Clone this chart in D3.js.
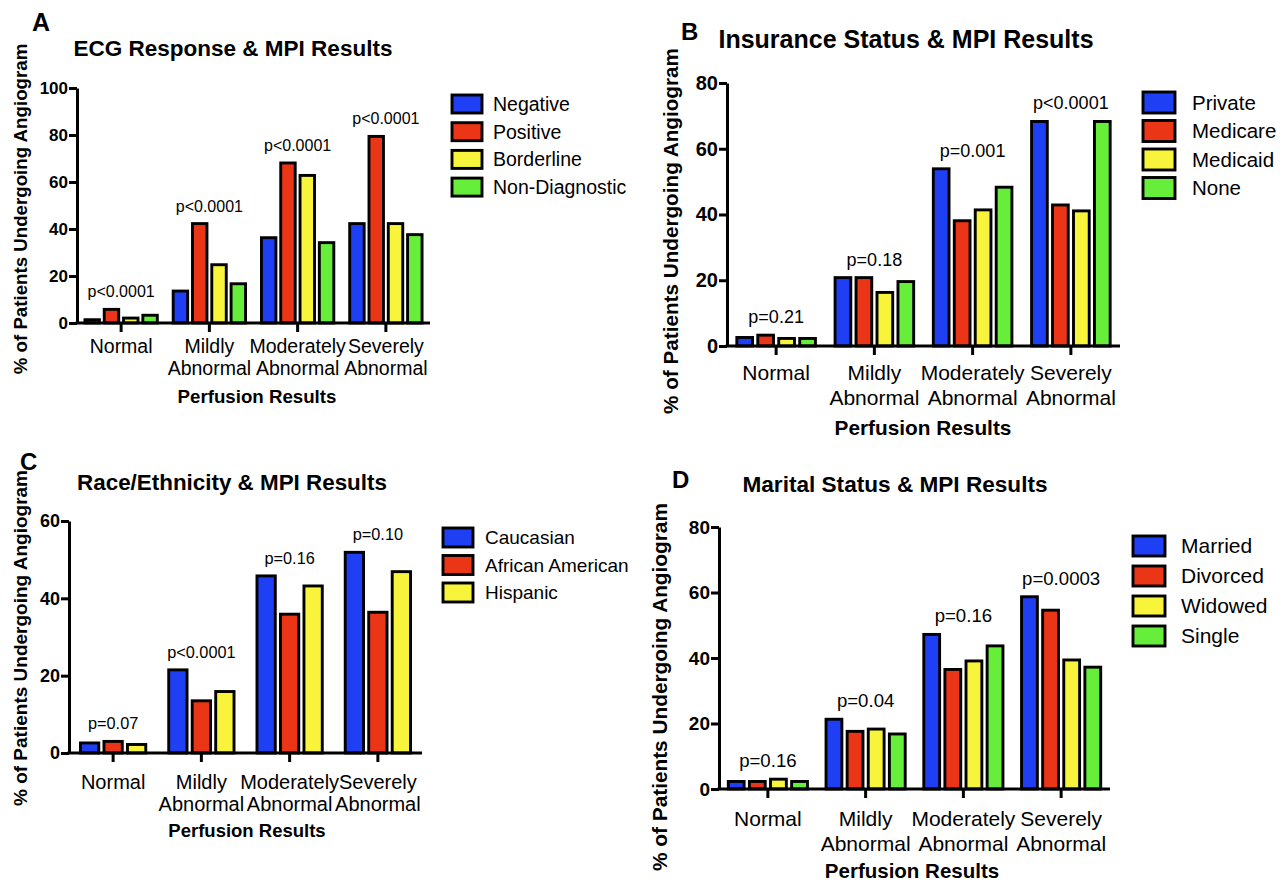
<!DOCTYPE html>
<html lang="en">
<head>
<meta charset="UTF-8">
<title>MPI Results</title>
<script src="https://d3js.org/d3.v7.min.js"></script>
<style>
  body { margin: 0; background: #fff; }
  svg { font-family: "Liberation Sans", Arial, sans-serif; }
  .bar { stroke: #000; stroke-width: 2.9; }
  .axis path, .axis line { stroke: #000; stroke-width: 3; }
</style>
</head>
<body>
<script>
// categories shared by all four panels
const categories = ["Normal", "Mildly Abnormal", "Moderately Abnormal", "Severely Abnormal"]
const categoryLines = [["Normal"], ["Mildly", "Abnormal"], ["Moderately", "Abnormal"], ["Severely", "Abnormal"]]
const colors = ["#1f3ff5", "#ea3517", "#f8f43c", "#66ee3a"]

// A - ECG response
const ecgSeries = ["Negative", "Positive", "Borderline", "Non-Diagnostic"]
const ecgValues = [[1.4, 5.8, 2.1, 3.3], [13.6, 42.3, 24.8, 16.7], [36.3, 68.1, 62.8, 34.2], [42.3, 79.4, 42.3, 37.6]]
const ecgP = ["p<0.0001", "p<0.0001", "p<0.0001", "p<0.0001"]
const ecgTicks = [0, 20, 40, 60, 80, 100]

// B - insurance status
const insSeries = ["Private", "Medicare", "Medicaid", "None"]
const insValues = [[2.6, 3.3, 2.3, 2.3], [20.8, 20.8, 16.3, 19.6], [53.9, 38.1, 41.4, 48.3], [68.3, 42.9, 41.1, 68.3]]
const insP = ["p=0.21", "p=0.18", "p=0.001", "p<0.0001"]
const insTicks = [0, 20, 40, 60, 80]

// C - race / ethnicity
const raceSeries = ["Caucasian", "African American", "Hispanic"]
const raceValues = [[2.6, 3.0, 2.2], [21.5, 13.5, 15.9], [45.8, 35.9, 43.2], [51.9, 36.4, 46.9]]
const raceP = ["p=0.07", "p<0.0001", "p=0.16", "p=0.10"]
const raceTicks = [0, 20, 40, 60]

// D - marital status
const marSeries = ["Married", "Divorced", "Widowed", "Single"]
const marValues = [[2.3, 2.3, 3.0, 2.3], [21.3, 17.6, 18.3, 16.8], [47.2, 36.5, 39.1, 43.7], [58.7, 54.6, 39.4, 37.2]]
const marP = ["p=0.16", "p=0.04", "p=0.16", "p=0.0003"]
const marTicks = [0, 20, 40, 60, 80]

const svg = d3.select("body").append("svg")
  .attr("width", 1280)
  .attr("height", 884)

function drawPanel(p) {
  const g = svg.append("g")

  // letter + title
  g.append("text").attr("x", p.letterX).attr("y", p.letterY)
    .attr("font-size", p.letterSize).attr("font-weight", "bold").text(p.letter)
  g.append("text").attr("x", p.titleX).attr("y", p.titleY)
    .attr("text-anchor", "middle").attr("font-size", p.titleSize).attr("font-weight", "bold").text(p.title)

  const y = d3.scaleLinear().domain([0, d3.max(p.ticks)]).range([p.bottom, p.top])
  const x0 = d3.scaleBand().domain(categories).range([p.left, p.right])
    .paddingInner(p.groupPad).paddingOuter(p.groupPad / 2)
  const x1 = d3.scaleBand().domain(p.series).range([0, x0.bandwidth()]).paddingInner(p.barPad)
  const color = d3.scaleOrdinal().domain(p.series).range(colors)

  // bars
  const groups = g.selectAll(".grp").data(p.values).join("g")
    .attr("transform", (d, i) => `translate(${x0(categories[i])},0)`)
  groups.selectAll("rect").data(d => d.map((v, j) => ({ name: p.series[j], v })))
    .join("rect").attr("class", "bar")
    .attr("x", d => x1(d.name)).attr("width", x1.bandwidth())
    .attr("y", d => y(d.v)).attr("height", d => y(0) - y(d.v))
    .attr("fill", d => color(d.name))

  // p values over each group
  g.selectAll(".pval").data(p.pvals).join("text")
    .attr("x", (d, i) => x0(categories[i]) + x0.bandwidth() / 2)
    .attr("y", (d, i) => y(d3.max(p.values[i])) - 12)
    .attr("text-anchor", "middle").attr("font-size", p.pSize).text(d => d)

  // axes
  const yAxis = g.append("g").attr("class", "axis")
    .attr("transform", `translate(${p.left},0)`)
    .call(d3.axisLeft(y).tickValues(p.ticks).tickFormat(d3.format("d")).tickSize(8).tickSizeOuter(0))
  yAxis.selectAll("text").attr("font-size", p.tickSize).attr("font-weight", "bold")
    .attr("fill", "#000").attr("font-family", null).attr("x", -9)

  const xAxis = g.append("g").attr("class", "axis")
    .attr("transform", `translate(0,${p.bottom})`)
    .call(d3.axisBottom(x0).tickFormat("").tickSize(9).tickSizeOuter(0))
  xAxis.select(".domain").attr("d", `M${p.left - 1.5},0H${p.right}`)

  // category labels
  g.selectAll(".cat").data(categoryLines).join("text")
    .attr("text-anchor", "middle").attr("font-size", p.catSize)
    .attr("transform", (d, i) => `translate(${x0(categories[i]) + x0.bandwidth() / 2},${p.catY})`)
    .selectAll("tspan").data(d => d).join("tspan")
    .attr("x", 0).attr("y", (d, k) => k * p.lineH).text(d => d)

  // axis titles
  g.append("text").attr("x", p.xTitleX).attr("y", p.xTitleY)
    .attr("text-anchor", "middle").attr("font-size", p.xTitleSize).attr("font-weight", "bold")
    .text("Perfusion Results")
  g.append("text")
    .attr("transform", `translate(${p.yLabelX},${p.yLabelY}) rotate(-90)`)
    .attr("text-anchor", "middle").attr("dy", "0.35em")
    .attr("font-size", p.yLabelSize).attr("font-weight", "bold")
    .text("% of Patients Undergoing Angiogram")

  // legend
  const leg = g.selectAll(".leg").data(p.series).join("g")
    .attr("transform", (d, i) => `translate(${p.legX},${p.legY + i * p.legStep})`)
  leg.append("rect").attr("class", "bar").attr("width", p.swW).attr("height", p.swH)
    .attr("fill", d => color(d))
  leg.append("text").attr("x", p.legTextX).attr("y", p.swH / 2).attr("dy", "0.35em")
    .attr("font-size", p.legSize).text(d => d)
}

drawPanel({
  letter: "A", letterX: 32, letterY: 31, letterSize: 25,
  title: "ECG Response & MPI Results", titleX: 233, titleY: 56, titleSize: 22.5,
  series: ecgSeries, values: ecgValues, pvals: ecgP, ticks: ecgTicks,
  left: 77, right: 430, top: 88, bottom: 323, groupPad: 0.18, barPad: 0.25,
  tickSize: 17, pSize: 16, catSize: 19.5, catY: 353, lineH: 22,
  xTitleX: 257, xTitleY: 403, xTitleSize: 18.7,
  yLabelX: 20, yLabelY: 209, yLabelSize: 18.7,
  legX: 452, legY: 95, legStep: 27.7, swW: 30, swH: 18, legTextX: 41, legSize: 19.5
})

drawPanel({
  letter: "B", letterX: 681, letterY: 40, letterSize: 24,
  title: "Insurance Status & MPI Results", titleX: 906, titleY: 48, titleSize: 25,
  series: insSeries, values: insValues, pvals: insP, ticks: insTicks,
  left: 727, right: 1120, top: 83, bottom: 346, groupPad: 0.2, barPad: 0.25,
  tickSize: 20, pSize: 18, catSize: 21, catY: 380, lineH: 25,
  xTitleX: 923, xTitleY: 435, xTitleSize: 20.8,
  yLabelX: 671, yLabelY: 231, yLabelSize: 20.7,
  legX: 1143, legY: 92, legStep: 28.5, swW: 32, swH: 21, legTextX: 49, legSize: 20.5
})

drawPanel({
  letter: "C", letterX: 20, letterY: 470, letterSize: 24,
  title: "Race/Ethnicity & MPI Results", titleX: 232, titleY: 490, titleSize: 22.4,
  series: raceSeries, values: raceValues, pvals: raceP, ticks: raceTicks,
  left: 69, right: 422, top: 521, bottom: 753, groupPad: 0.26, barPad: 0.22,
  tickSize: 18, pSize: 16.3, catSize: 20, catY: 789, lineH: 22,
  xTitleX: 247, xTitleY: 837, xTitleSize: 18.5,
  yLabelX: 20, yLabelY: 638, yLabelSize: 19,
  legX: 443, legY: 528, legStep: 27.5, swW: 30, swH: 19, legTextX: 42, legSize: 19
})

drawPanel({
  letter: "D", letterX: 672, letterY: 488, letterSize: 24,
  title: "Marital Status & MPI Results", titleX: 895, titleY: 492, titleSize: 22.6,
  series: marSeries, values: marValues, pvals: marP, ticks: marTicks,
  left: 719, right: 1110, top: 527, bottom: 789, groupPad: 0.19, barPad: 0.25,
  tickSize: 19, pSize: 18.6, catSize: 21, catY: 826, lineH: 24.5,
  xTitleX: 912, xTitleY: 878, xTitleSize: 20.5,
  yLabelX: 660, yLabelY: 687, yLabelSize: 20.8,
  legX: 1133, legY: 536, legStep: 30, swW: 32, swH: 20, legTextX: 48, legSize: 21
})
</script>
</body>
</html>
